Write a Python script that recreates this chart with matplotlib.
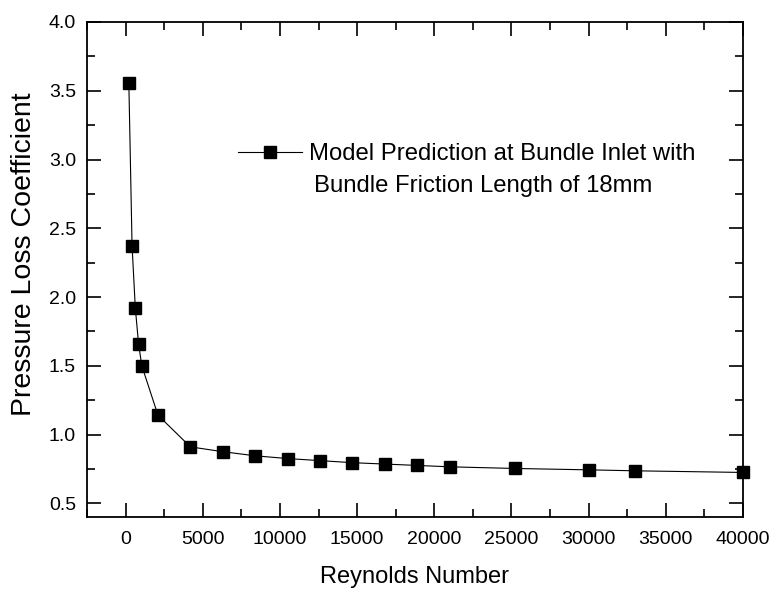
import numpy as np
import matplotlib
matplotlib.use("Agg")
from matplotlib import pyplot as plt
from matplotlib.ticker import MultipleLocator, FormatStrFormatter

plt.rcParams["font.family"] = ["Liberation Sans", "DejaVu Sans"]

reynolds = [210, 420, 630, 840, 1050, 2100, 4200, 6300, 8400, 10500, 12600,
            14700, 16800, 18900, 21000, 25200, 30000, 33000, 40000]
loss_coef = [3.56, 2.37, 1.92, 1.66, 1.50, 1.14, 0.91, 0.875, 0.845, 0.825,
             0.81, 0.795, 0.785, 0.775, 0.765, 0.753, 0.743, 0.736, 0.724]
legend_line1 = "Model Prediction at Bundle Inlet with"
legend_line2 = "Bundle Friction Length of 18mm"

W, H = 776, 594
fig = plt.figure(figsize=(W / 100, H / 100), dpi=100)
ax = fig.add_axes([87 / W, 1 - 517 / H, (743 - 87) / W, (517 - 22) / H])

ax.plot(reynolds, loss_coef, color="black", lw=0.8, marker="s", ms=8.6,
        mec="black", mfc="black", label=legend_line1, clip_on=False, zorder=3)

ax.set_xlim(-2500, 40000)
ax.set_ylim(0.4, 4.0)
ax.set_xticks(np.arange(0, 40001, 5000))
ax.set_yticks(np.arange(0.5, 4.01, 0.5))
ax.xaxis.set_minor_locator(MultipleLocator(2500))
ax.yaxis.set_minor_locator(MultipleLocator(0.25))
ax.yaxis.set_major_formatter(FormatStrFormatter("%.1f"))

ax.tick_params(which="both", direction="in", top=True, right=True,
               labelsize=14, width=1.2)
ax.tick_params(axis="x", pad=10)
ax.tick_params(axis="y", pad=8)
ax.tick_params(which="major", length=10)
ax.tick_params(which="minor", length=5.5)
for s in ax.spines.values():
    s.set_linewidth(1.3)

ax.set_xlabel("Reynolds Number", fontsize=17)
ax.xaxis.label.set_verticalalignment("center")
ax.xaxis.set_label_coords(0.5, -0.121)
ax.set_ylabel("Pressure Loss Coefficient", fontsize=20.5)
ax.yaxis.label.set_verticalalignment("center")
ax.yaxis.set_label_coords(-0.096, 0.531)

ax.legend(loc="center left", bbox_to_anchor=(238 / W, 1 - 154 / H),
          bbox_transform=fig.transFigure, frameon=False, fontsize=17.2,
          handlelength=2.67, handletextpad=0.3, borderpad=0, borderaxespad=0)
fig.text(314 / W, 1 - 192 / H, legend_line2, fontsize=17.2,
         va="baseline", ha="left")

fig.savefig("out.png", dpi=100)
